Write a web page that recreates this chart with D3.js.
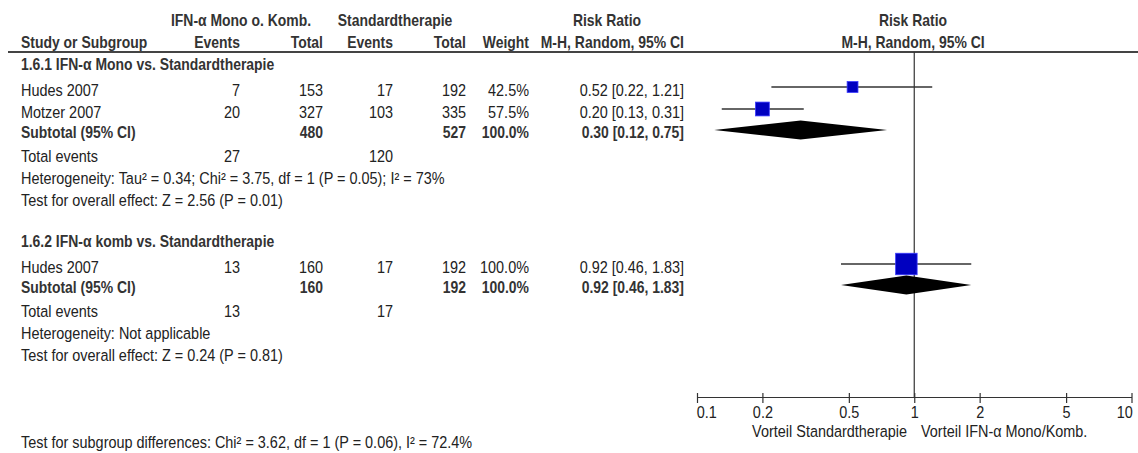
<!DOCTYPE html>
<meta charset="utf-8">
<style>
  body { margin: 0; background: #fff; }
  text { font-family: "Liberation Sans", Arial, sans-serif; font-size: 16.5px; fill: #222; }
  .b { font-weight: bold; fill: #333; }
</style>
<body>
<script src="https://cdn.jsdelivr.net/npm/d3@7"></script>
<script>

var width = 1138,
    height = 453,
    squeeze = 0.875,     // no narrow font installed, so squeeze Liberation Sans
    squeezeBold = 0.845;

// data
var subgroupTitles = ["1.6.1 IFN-\u03b1 Mono vs. Standardtherapie", "1.6.2 IFN-\u03b1 komb vs. Standardtherapie"];
var studyNames = [["Hudes 2007", "Motzer 2007"], ["Hudes 2007"]];
var expEvents  = [[7, 20], [13]];
var expTotal   = [[153, 327], [160]];
var ctlEvents  = [[17, 103], [17]];
var ctlTotal   = [[192, 335], [192]];
var weights    = [[42.5, 57.5], [100.0]];
var rr         = [[0.52, 0.20], [0.92]];
var ciLow      = [[0.22, 0.13], [0.46]];
var ciHigh     = [[1.21, 0.31], [1.83]];

var subExpTotal = [480, 160],
    subCtlTotal = [527, 192],
    subWeight   = [100.0, 100.0],
    subRR       = [0.30, 0.92],
    subLow      = [0.12, 0.46],
    subHigh     = [0.75, 1.83],
    totExpEvents = [27, 13],
    totCtlEvents = [120, 17];

var heterogeneity = ["Heterogeneity: Tau\u00b2 = 0.34; Chi\u00b2 = 3.75, df = 1 (P = 0.05); I\u00b2 = 73%",
                     "Heterogeneity: Not applicable"];
var overallEffect = ["Test for overall effect: Z = 2.56 (P = 0.01)",
                     "Test for overall effect: Z = 0.24 (P = 0.81)"];
var subgroupTest = "Test for subgroup differences: Chi\u00b2 = 3.62, df = 1 (P = 0.06), I\u00b2 = 72.4%";

var tickValues = [0.1, 0.2, 0.5, 1, 2, 5, 10],
    tickLabels = ["0.1", "0.2", "0.5", "1", "2", "5", "10"];

// layout
var xStudy = 21, xEv1 = 240, xTot1 = 323, xEv2 = 393, xTot2 = 466, xW = 529, xCI = 684;
var groupTop = [70, 247];
var axisY = 397, lineTop = 52;

var x = d3.scaleLog().domain([0.1, 10]).range([697, 1131.5]);
var boxSize = d3.scalePow().exponent(0.8).domain([0, 100]).range([0, 21.5]);

var svg = d3.select("body").append("svg")
    .attr("width", width)
    .attr("height", height);

function txt(xp, yp, s, anchor, cls) {
  var k = cls === "b" ? squeezeBold : squeeze;
  return svg.append("text")
      .attr("transform", "translate(" + xp + "," + yp + ") scale(" + k + ",1)")
      .attr("text-anchor", anchor || "start")
      .attr("class", cls || null)
      .text(s);
}

function ciText(m, l, h) {
  return m.toFixed(2) + " [" + l.toFixed(2) + ", " + h.toFixed(2) + "]";
}

// header
txt(241, 26, "IFN-\u03b1 Mono o. Komb.", "middle", "b");
txt(395, 26, "Standardtherapie", "middle", "b");
txt(607, 26, "Risk Ratio", "middle", "b");
txt(913, 26, "Risk Ratio", "middle", "b");
txt(xStudy, 48, "Study or Subgroup", "start", "b");
txt(xEv1, 48, "Events", "end", "b");
txt(xTot1, 48, "Total", "end", "b");
txt(xEv2, 48, "Events", "end", "b");
txt(xTot2, 48, "Total", "end", "b");
txt(xW, 48, "Weight", "end", "b");
txt(xCI, 48, "M-H, Random, 95% CI", "end", "b");
txt(913, 48, "M-H, Random, 95% CI", "middle", "b");

svg.append("line")
    .attr("x1", 8).attr("x2", width)
    .attr("y1", lineTop).attr("y2", lineTop)
    .attr("stroke", "#444").attr("stroke-width", 2);

// line of no effect
svg.append("line")
    .attr("x1", x(1)).attr("x2", x(1))
    .attr("y1", lineTop).attr("y2", axisY)
    .attr("stroke", "#333").attr("stroke-width", 1.2);

var marks = svg.append("g");

subgroupTitles.forEach(function(title, g) {
  var y = groupTop[g];
  txt(xStudy, y, title, "start", "b");
  y += 26;

  studyNames[g].forEach(function(name, i) {
    txt(xStudy, y, name);
    txt(xEv1, y, expEvents[g][i], "end");
    txt(xTot1, y, expTotal[g][i], "end");
    txt(xEv2, y, ctlEvents[g][i], "end");
    txt(xTot2, y, ctlTotal[g][i], "end");
    txt(xW, y, weights[g][i].toFixed(1) + "%", "end");
    txt(xCI, y, ciText(rr[g][i], ciLow[g][i], ciHigh[g][i]), "end");

    var cy = y - 9, s = boxSize(weights[g][i]);
    marks.append("line")
        .attr("x1", x(ciLow[g][i])).attr("x2", x(ciHigh[g][i]))
        .attr("y1", cy).attr("y2", cy)
        .attr("stroke", "#333").attr("stroke-width", 1.5);
    marks.append("rect")
        .attr("x", x(rr[g][i]) - s / 2).attr("y", cy - s / 2)
        .attr("width", s).attr("height", s)
        .attr("fill", "#0000c0")
        .attr("stroke", "#3a3aff").attr("stroke-width", 0.8);
    y += 22;
  });

  y -= 2;
  txt(xStudy, y, "Subtotal (95% CI)", "start", "b");
  txt(xTot1, y, subExpTotal[g], "end", "b");
  txt(xTot2, y, subCtlTotal[g], "end", "b");
  txt(xW, y, subWeight[g].toFixed(1) + "%", "end", "b");
  txt(xCI, y, ciText(subRR[g], subLow[g], subHigh[g]), "end", "b");

  var dy = y - 8, hh = 9.5;
  marks.append("path")
      .attr("d", "M" + x(subLow[g]) + "," + dy +
                 "L" + x(subRR[g]) + "," + (dy - hh) +
                 "L" + x(subHigh[g]) + "," + dy +
                 "L" + x(subRR[g]) + "," + (dy + hh) + "Z")
      .attr("fill", "#000");

  y += 24;
  txt(xStudy, y, "Total events");
  txt(xEv1, y, totExpEvents[g], "end");
  txt(xEv2, y, totCtlEvents[g], "end");
  y += 22;
  txt(xStudy, y, heterogeneity[g]);
  y += 22;
  txt(xStudy, y, overallEffect[g]);
});

txt(xStudy, 448, subgroupTest);

// axis
var axis = d3.axisBottom(x)
    .tickValues(tickValues)
    .tickFormat(function(d, i) { return tickLabels[i]; })
    .tickSize(6)
    .tickSizeOuter(0)
    .tickPadding(3);

var ax = svg.append("g")
    .attr("transform", "translate(0," + axisY + ")")
    .call(axis);

ax.attr("font-family", null).attr("font-size", null);
ax.select(".domain").attr("stroke", "#333").attr("stroke-width", 1.2);
ax.selectAll(".tick line").attr("y1", -4).attr("stroke", "#333").attr("stroke-width", 1.2);
ax.selectAll(".tick text")
    .attr("fill", "#222")
    .attr("transform", "scale(" + squeeze + ",1)")
    .attr("text-anchor", function(d, i) {
      return i === 0 ? "start" : (i === tickValues.length - 1 ? "end" : "middle");
    })
    .attr("dx", function(d, i) { return i === 0 ? -1 : (i === tickValues.length - 1 ? 1 : 0); });

txt(907, 437, "Vorteil Standardtherapie", "end");
txt(921, 437, "Vorteil IFN-\u03b1 Mono/Komb.", "start");

</script>
